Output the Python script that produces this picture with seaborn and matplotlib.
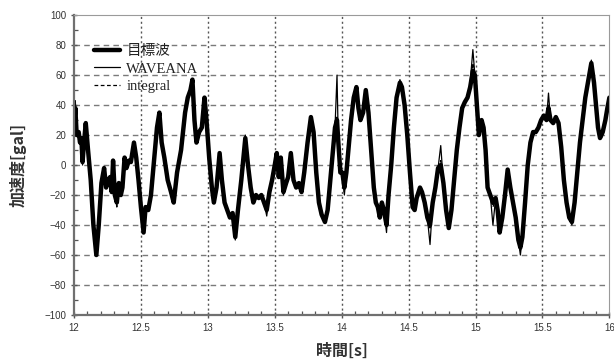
import matplotlib
matplotlib.use("Agg")
import matplotlib.pyplot as plt
import seaborn as sns
import pandas as pd
from matplotlib.ticker import MultipleLocator

# ---------------- data ----------------
time_s = [12.000,12.010,12.020,12.035,12.045,12.055,12.064,12.075,12.088,12.105,
 12.125,12.145,12.167,12.185,12.205,12.225,12.240,12.255,12.270,12.282,
 12.292,12.305,12.320,12.335,12.350,12.362,12.378,12.392,12.410,12.425,
 12.448,12.465,12.482,12.500,12.520,12.535,12.555,12.575,12.595,12.620,
 12.638,12.655,12.675,12.700,12.725,12.745,12.770,12.800,12.830,12.850,
 12.870,12.885,12.900,12.915,12.935,12.955,12.975,12.990,13.010,13.030,
 13.045,13.065,13.088,13.105,13.125,13.145,13.165,13.185,13.205,13.225,
 13.250,13.280,13.300,13.320,13.340,13.360,13.380,13.400,13.420,13.440,
 13.460,13.480,13.500,13.515,13.530,13.545,13.565,13.585,13.600,13.620,
 13.640,13.660,13.680,13.700,13.720,13.745,13.770,13.790,13.810,13.830,
 13.850,13.875,13.895,13.915,13.935,13.950,13.965,13.975,13.990,14.005,
 14.020,14.035,14.050,14.070,14.090,14.110,14.125,14.140,14.160,14.180,
 14.200,14.220,14.240,14.255,14.270,14.285,14.300,14.315,14.335,14.350,
 14.370,14.390,14.410,14.435,14.450,14.470,14.490,14.510,14.530,14.545,
 14.560,14.585,14.600,14.620,14.640,14.660,14.680,14.700,14.720,14.740,
 14.760,14.780,14.800,14.820,14.840,14.860,14.880,14.900,14.920,14.940,
 14.960,14.980,14.995,15.010,15.025,15.045,15.060,15.075,15.090,15.110,
 15.130,15.150,15.165,15.180,15.200,15.220,15.240,15.260,15.280,15.300,
 15.320,15.335,15.350,15.370,15.390,15.410,15.430,15.450,15.470,15.490,
 15.510,15.530,15.545,15.560,15.580,15.600,15.620,15.640,15.660,15.680,
 15.700,15.720,15.740,15.760,15.780,15.800,15.820,15.845,15.865,15.885,
 15.900,15.915,15.930,15.950,15.970,15.985,16.000]

target = [25,38,20,22,15,18,2,15,28,10,
 -10,-40,-60,-40,-12,-2,-15,-10,-8,-18,
 3,-20,-25,-12,-20,-15,5,-2,3,2,
 15,5,-10,-28,-45,-28,-30,-20,0,25,
 35,15,5,-10,-18,-25,-5,10,35,45,
 50,57,30,15,22,25,45,30,5,-15,
 -25,-15,8,-10,-25,-30,-35,-32,-48,-30,
 -10,18,0,-15,-25,-20,-22,-20,-25,-30,
 -18,-10,0,8,-8,5,-18,-12,-8,8,
 -10,-15,-12,-18,-5,15,32,22,-5,-25,
 -33,-38,-30,-10,10,25,30,15,-5,-5,
 -15,-5,10,30,45,52,38,30,35,50,
 35,10,-15,-25,-28,-35,-25,-30,-40,-20,
 0,25,45,55,52,40,20,-5,-28,-30,
 -22,-15,-18,-25,-35,-40,-25,-15,-2,0,
 -12,-30,-42,-30,-10,10,25,38,42,45,
 52,63,60,40,20,30,25,10,-15,-20,
 -25,-22,-30,-45,-35,-20,-3,-15,-25,-35,
 -50,-55,-48,-25,0,15,22,22,25,30,
 33,30,38,30,28,32,28,12,-10,-25,
 -35,-38,-25,-5,15,30,45,58,68,55,
 40,25,18,22,30,38,45]

waveana = [25,43,20,22,15,18,0,15,28,10,
 -10,-40,-60,-40,-12,-2,-15,-10,-8,-18,
 3,-20,-27,-12,-20,-15,5,-2,3,2,
 15,5,-10,-28,-45,-28,-30,-20,0,25,
 35,15,5,-10,-18,-25,-5,10,35,45,
 50,57,30,15,22,25,45,30,5,-15,
 -25,-15,8,-10,-25,-30,-35,-32,-50,-30,
 -10,20,0,-15,-25,-20,-22,-20,-25,-34,
 -18,-10,0,8,-8,5,-20,-12,-8,8,
 -10,-15,-12,-18,-5,15,32,22,-5,-25,
 -33,-38,-30,-10,10,25,60,15,-5,-5,
 -20,-5,10,30,45,53,38,30,35,50,
 35,10,-15,-25,-28,-35,-25,-30,-45,-20,
 0,25,45,57,52,40,20,-5,-28,-30,
 -22,-15,-18,-25,-35,-53,-25,-15,-2,13,
 -12,-30,-42,-30,-10,10,25,38,42,45,
 55,77,60,40,20,30,25,10,-15,-20,
 -40,-22,-30,-45,-35,-20,-3,-15,-25,-35,
 -50,-60,-48,-25,0,15,22,22,25,30,
 33,30,48,30,28,32,28,12,-10,-25,
 -35,-40,-25,-5,15,30,45,58,70,55,
 40,25,18,22,30,38,45]

integral = [22,40,20,22,15,18,2,15,28,10,
 -10,-40,-60,-40,-12,-2,-15,-10,-8,-18,
 3,-20,-28,-12,-20,-15,5,-2,3,2,
 15,5,-10,-28,-45,-28,-30,-20,0,25,
 35,15,5,-10,-18,-25,-5,10,35,45,
 50,57,30,15,22,25,45,30,5,-15,
 -25,-15,8,-10,-25,-30,-35,-32,-48,-30,
 -10,18,0,-15,-25,-20,-22,-20,-25,-32,
 -18,-10,0,8,-8,5,-18,-12,-8,8,
 -10,-15,-12,-18,-5,15,32,22,-5,-25,
 -33,-38,-30,-10,10,25,32,15,-5,-5,
 -18,-5,10,30,45,52,38,30,35,50,
 35,10,-15,-25,-28,-35,-25,-30,-42,-20,
 0,25,45,55,52,40,20,-5,-28,-30,
 -22,-15,-18,-25,-35,-42,-25,-15,-2,3,
 -12,-30,-42,-30,-10,10,25,38,42,45,
 52,68,60,40,20,30,25,10,-15,-20,
 -28,-22,-30,-45,-35,-20,-3,-15,-25,-35,
 -50,-57,-48,-25,0,15,22,22,25,30,
 33,30,40,30,28,32,28,12,-10,-25,
 -35,-38,-25,-5,15,30,45,58,68,55,
 40,25,18,22,30,38,45]

series_names = ["目標波", "WAVEANA", "integral"]
x_ticks = [12, 12.5, 13, 13.5, 14, 14.5, 15, 15.5, 16]
x_tick_labels = ["12", "12.5", "13", "13.5", "14", "14.5", "15", "15.5", "16"]
y_ticks = [-100, -80, -60, -40, -20, 0, 20, 40, 60, 80, 100]

# ---------------- plot ----------------
sns.set_theme(style="white")
plt.rcParams["font.family"] = ["Liberation Sans", "Noto Sans CJK JP", "DejaVu Sans"]

fig = plt.figure(figsize=(6.14, 3.60), dpi=100)
ax = fig.add_axes([0.1205, 0.125, 0.872, 0.833])

df = pd.DataFrame({"t": time_s, "target": target, "waveana": waveana, "integral": integral})

sns.lineplot(data=df, x="t", y="integral", ax=ax, color="black", lw=0.9,
             linestyle=(0, (3, 2)), label=series_names[2], estimator=None, sort=False)
sns.lineplot(data=df, x="t", y="waveana", ax=ax, color="black", lw=0.9,
             label=series_names[1], estimator=None, sort=False)
sns.lineplot(data=df, x="t", y="target", ax=ax, color="black", lw=3.2,
             label=series_names[0], estimator=None, sort=False)

ax.set_xlim(12, 16)
ax.set_ylim(-100, 100)
ax.set_xticks(x_ticks)
ax.set_xticklabels(x_tick_labels)
ax.set_yticks(y_ticks)
ax.xaxis.set_minor_locator(MultipleLocator(0.1))
ax.yaxis.set_minor_locator(MultipleLocator(10))

# grid: horizontal dashed gray, vertical dotted dark
for yv in y_ticks[1:-1]:
    ax.axhline(yv, color="#7a7a7a", lw=1.0, linestyle=(0, (4, 3)), zorder=0)
for xv in x_ticks[1:-1]:
    ax.axvline(xv, color="#555555", lw=1.0, linestyle=(0, (1.5, 2)), zorder=0)

for side in ["top", "right"]:
    ax.spines[side].set_color("#9a9a9a")
    ax.spines[side].set_linewidth(0.8)
for side in ["left", "bottom"]:
    ax.spines[side].set_color("#707070")
    ax.spines[side].set_linewidth(1.6)

ax.tick_params(axis="both", which="major", direction="inout", length=5, width=1.0,
               color="#555555", labelsize=7, labelcolor="#333333", pad=3,
               left=True, bottom=True)
ax.tick_params(axis="both", which="minor", direction="in", length=3, width=0.9,
               color="#555555", left=True, bottom=True)

ax.set_xlabel("時間[s]", fontsize=11.5, family=["Noto Sans CJK JP", "DejaVu Sans"],
              fontweight="bold", color="#333333", labelpad=7)
ax.set_ylabel("加速度[gal]", fontsize=11.5, family=["Noto Sans CJK JP", "DejaVu Sans"],
              fontweight="bold", color="#333333", labelpad=13)

handles, labels = ax.get_legend_handles_labels()
order = [labels.index(n) for n in series_names]
leg = ax.legend([handles[i] for i in order], [labels[i] for i in order],
                loc="upper left", bbox_to_anchor=(0.012, 0.945), frameon=False,
                handlelength=1.8, handletextpad=0.45, labelspacing=0.3,
                prop={"family": ["Liberation Serif", "Noto Sans CJK JP"], "size": 10.5})
for t in leg.get_texts():
    t.set_color("#222222")

fig.savefig("out.png", dpi=100)
